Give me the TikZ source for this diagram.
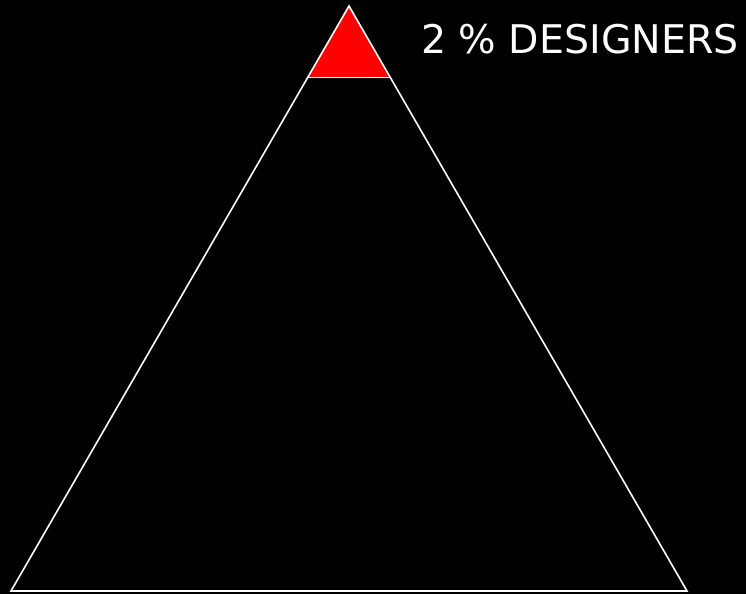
\documentclass[tikz,border=0pt]{standalone}
\usepackage{fontspec}
\newfontfamily\labelfont{DejaVu Sans}
\usepackage{tikz}
\usetikzlibrary{calc}

\tikzset{
  edge/.style={draw=white, line width=1.6pt, line join=miter},
  toplabel/.style={text=white, font=\labelfont\fontsize{39.5}{41}\selectfont, inner sep=0pt, anchor=west}
}

\begin{document}
\begin{tikzpicture}[x=1pt, y=-1pt]
        % Background
        \fill[black] (0,0) rectangle (746,594);
        \useasboundingbox (0,0) rectangle (746,594);

        % Corners of the pyramid
        \coordinate (Apex) at (349,6);
        \coordinate (BL) at (11,591);
        \coordinate (BR) at (687,591);

        % Cut line of the top part
        \coordinate (CL) at ($(Apex)!0.1222!(BL)$);
        \coordinate (CR) at ($(Apex)!0.1222!(BR)$);

        % Red top
        \fill[red] (Apex) -- (CL) -- (CR) -- cycle;

        % Outline
        \draw[edge] (Apex) -- (BL) -- (BR) -- cycle;
        \draw[edge, line width=1.2pt] (CL) -- (CR);

        % Label
        \node[toplabel] (designers) at (421,39.5) {2 \% DESIGNERS};
    \end{tikzpicture}
\end{document}
